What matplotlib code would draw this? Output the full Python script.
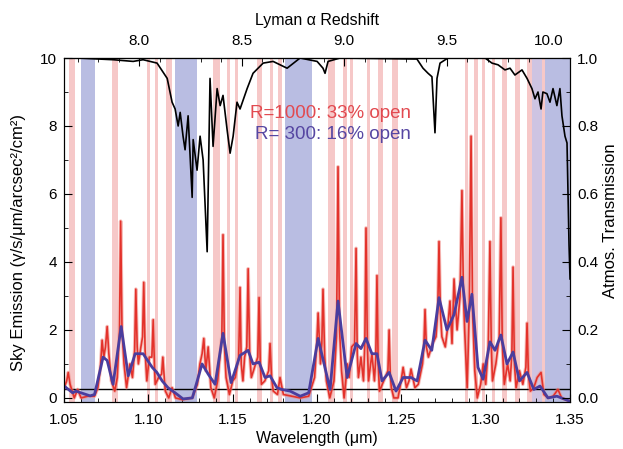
#!/usr/bin/env python3
"""Sky emission (R=1000 / R=300) and atmospheric transmission, 1.05-1.35 um."""

import numpy as np
import matplotlib
matplotlib.use("Agg")
import matplotlib.pyplot as plt
from matplotlib.ticker import MultipleLocator, FormatStrFormatter, FixedLocator

plt.rcParams["font.family"] = ["Liberation Sans", "DejaVu Sans"]

LYA = 0.1216  # um

# sky emission, R=1000: (wavelength um, photons/s/um/arcsec^2/cm^2)
r1000 = [
    (1.050, 0.3), (1.0515, 0.5), (1.0524, 0.75), (1.0535, 0.4), (1.056, 0.0),
    (1.058, 0.25), (1.060, 0.0), (1.064, 0.05), (1.068, 0.05), (1.070, 0.3),
    (1.0715, 0.9), (1.0725, 1.7), (1.0735, 1.2), (1.0745, 1.5), (1.0755, 2.1),
    (1.0765, 1.3), (1.078, 0.5), (1.080, 0.2), (1.0815, 0.6), (1.0828, 2.0),
    (1.0835, 5.2), (1.0843, 2.0), (1.0855, 1.0), (1.087, 0.3), (1.089, 1.0),
    (1.0905, 0.6), (1.0918, 1.4), (1.0925, 3.2), (1.0933, 1.5), (1.094, 1.0),
    (1.0955, 1.5), (1.0965, 1.8), (1.0972, 3.4), (1.098, 1.4), (1.099, 0.5),
    (1.1005, 1.2), (1.102, 1.2), (1.1028, 2.3), (1.1035, 1.0), (1.104, 0.4),
    (1.106, 0.6), (1.1078, 0.7), (1.1085, 1.2), (1.1095, 0.5), (1.110, 0.2),
    (1.112, 0.0), (1.114, 0.3), (1.116, 0.0), (1.120, -0.05), (1.126, 0.0),
    (1.129, 0.4), (1.1305, 1.0), (1.1318, 1.3), (1.1328, 1.75), (1.134, 0.8),
    (1.1354, 1.5), (1.137, 0.3), (1.139, 0.0), (1.141, 0.5), (1.1435, 1.8),
    (1.1442, 4.8), (1.145, 1.6), (1.146, 0.6), (1.148, 0.1), (1.150, 0.5),
    (1.1515, 0.6), (1.1535, 1.2), (1.1543, 3.25), (1.155, 1.0), (1.156, 0.5),
    (1.157, 1.2), (1.1583, 1.5), (1.1591, 3.8), (1.160, 1.3), (1.161, 0.6),
    (1.1635, 1.0), (1.1648, 1.2), (1.1656, 2.95), (1.1663, 1.0), (1.167, 0.4),
    (1.169, 0.5), (1.1713, 0.8), (1.1721, 1.6), (1.173, 0.6), (1.174, 0.2),
    (1.1765, 0.1), (1.178, 0.6), (1.180, 0.1), (1.185, 0.05), (1.190, 0.0),
    (1.195, 0.05), (1.1985, 0.6), (1.1998, 1.6), (1.2006, 2.5), (1.2015, 1.5),
    (1.202, 1.0), (1.2028, 1.6), (1.2035, 3.2), (1.2045, 1.2), (1.2055, 0.5),
    (1.2075, 0.0), (1.210, 0.5), (1.2115, 1.8), (1.2124, 6.8), (1.2133, 2.0),
    (1.2145, 0.8), (1.216, 0.0), (1.218, 1.0), (1.219, 0.6), (1.2205, 1.5),
    (1.2222, 1.6), (1.2231, 4.4), (1.2238, 1.3), (1.2245, 0.6), (1.226, 1.2),
    (1.2275, 0.5), (1.2283, 1.6), (1.2290, 5.0), (1.2298, 1.5), (1.2305, 0.5),
    (1.2325, 1.3), (1.234, 0.5), (1.2348, 1.2), (1.2355, 3.6), (1.2362, 1.0),
    (1.237, 0.2), (1.2395, 0.5), (1.242, 0.8), (1.2427, 2.0), (1.2434, 0.7),
    (1.244, 0.3), (1.2455, 0.0), (1.248, 0.0), (1.2498, 0.5), (1.2510, 0.9),
    (1.253, 0.3), (1.2545, 0.5), (1.2557, 0.85), (1.258, 0.3), (1.260, 0.4),
    (1.2625, 1.0), (1.2633, 1.5), (1.2640, 2.6), (1.2648, 1.5), (1.266, 1.2),
    (1.2685, 1.6), (1.2705, 1.8), (1.2715, 2.5), (1.2723, 4.6), (1.2731, 2.5),
    (1.274, 1.8), (1.276, 1.5), (1.2775, 2.1), (1.2788, 2.85), (1.280, 1.6),
    (1.2812, 3.5), (1.283, 2.0), (1.2848, 3.0), (1.2859, 6.1), (1.2868, 3.0),
    (1.2875, 2.0), (1.289, 0.3), (1.2902, 2.5), (1.2913, 7.7), (1.2922, 2.5),
    (1.2935, 0.8), (1.295, 0.0), (1.297, 0.4), (1.2985, 1.0), (1.300, 0.4),
    (1.3015, 1.5), (1.3025, 4.6), (1.3033, 1.5), (1.304, 0.5), (1.306, 1.0),
    (1.308, 1.8), (1.3090, 5.3), (1.3098, 1.6), (1.311, 0.4), (1.313, 1.0),
    (1.3145, 0.5), (1.3155, 1.3), (1.3162, 3.85), (1.317, 1.0), (1.318, 0.3),
    (1.320, 0.8), (1.322, 0.4), (1.3238, 0.9), (1.3245, 2.2), (1.3253, 0.7),
    (1.3265, 0.2), (1.3285, 0.3), (1.3305, 0.6), (1.3328, 0.75), (1.3345, 0.1),
    (1.337, 0.0), (1.340, 0.05), (1.3428, 0.25), (1.345, 0.0), (1.350, -0.1),
]

# sky emission, R=300
r300 = [
    (1.050, 0.35), (1.055, 0.15), (1.057, 0.2), (1.0654, 0.06), (1.068, 0.1),
    (1.0731, 1.2), (1.0755, 1.1), (1.079, 0.4), (1.0838, 2.1), (1.088, 0.65),
    (1.0921, 1.3), (1.0968, 1.3), (1.1022, 0.9), (1.105, 0.75), (1.1081, 0.5),
    (1.1116, 0.3), (1.1158, 0.15), (1.1205, -0.03), (1.126, 0.0), (1.1318, 1.0),
    (1.1354, 0.7), (1.1395, 0.4), (1.1442, 1.9), (1.149, 0.45), (1.1543, 1.25),
    (1.1591, 1.4), (1.162, 1.0), (1.1656, 1.05), (1.1691, 0.6), (1.1721, 0.65),
    (1.1762, 0.3), (1.179, 0.25), (1.184, 0.2), (1.190, 0.05), (1.195, 0.15),
    (1.2006, 1.75), (1.2077, 0.25), (1.2124, 2.85), (1.2178, 0.6), (1.2231, 1.6),
    (1.226, 1.45), (1.2290, 1.75), (1.2325, 1.3), (1.2355, 1.3), (1.2385, 0.5),
    (1.2427, 0.75), (1.2468, 0.2), (1.2510, 0.6), (1.2557, 0.6), (1.2593, 0.5),
    (1.2640, 1.7), (1.268, 1.4), (1.2723, 2.95), (1.2770, 2.0), (1.2812, 2.45),
    (1.2859, 3.55), (1.2889, 2.25), (1.2918, 3.05), (1.2954, 0.9), (1.2984, 0.55),
    (1.3025, 1.65), (1.3055, 1.4), (1.3090, 1.85), (1.3126, 1.0), (1.3162, 1.35),
    (1.320, 0.5), (1.3245, 0.75), (1.3285, 0.25), (1.3322, 0.35), (1.3369, 0.0),
    (1.3422, 0.05), (1.350, -0.1),
]

# atmospheric transmission (right axis)
transmission = [
    (1.0577, 1.0), (1.0790, 0.995), (1.0909, 0.99), (1.0968, 0.995), (1.1051, 0.985),
    (1.1111, 0.94), (1.1140, 0.87), (1.1158, 0.85), (1.1176, 0.80), (1.1188, 0.84),
    (1.1205, 0.77), (1.1217, 0.73), (1.1235, 0.83), (1.1259, 0.59), (1.1265, 0.76),
    (1.1288, 0.67), (1.1306, 0.77), (1.1324, 0.70), (1.1348, 0.43), (1.1365, 0.94),
    (1.1383, 0.74), (1.1407, 0.91), (1.1425, 0.86), (1.1442, 0.89), (1.1466, 0.79),
    (1.1484, 0.72), (1.1502, 0.77), (1.1525, 0.87), (1.1543, 0.85), (1.1585, 0.91),
    (1.1620, 0.955), (1.1680, 0.985), (1.1739, 0.99), (1.1822, 0.97), (1.1899, 1.0),
    (1.2000, 0.99), (1.2035, 0.97), (1.2047, 0.955), (1.2065, 0.99), (1.2136, 1.0),
    (1.2592, 0.997), (1.2628, 0.97), (1.2658, 0.955), (1.2681, 0.945), (1.2699, 0.78),
    (1.2711, 0.94), (1.2729, 0.985), (1.2776, 1.0), (1.2996, 1.0), (1.3037, 0.985),
    (1.3073, 0.98), (1.3114, 0.965), (1.3144, 0.97), (1.3173, 0.95), (1.3215, 0.965),
    (1.3245, 0.94), (1.3274, 0.91), (1.3292, 0.88), (1.3310, 0.90), (1.3328, 0.85),
    (1.3339, 0.90), (1.3363, 0.895), (1.3381, 0.87), (1.3399, 0.91), (1.3422, 0.86),
    (1.3440, 0.91), (1.3452, 0.83), (1.3470, 0.77), (1.3482, 0.75), (1.3488, 0.60),
    (1.3494, 0.45), (1.3500, 0.35),
]

# masked windows (start, end) in um
pink_bands = [(1.0530, 1.0565), (1.0785, 1.0820), (1.0992, 1.1010), (1.1039, 1.1057),
              (1.1105, 1.1140), (1.1383, 1.1425), (1.1466, 1.1484), (1.1514, 1.1531),
              (1.1644, 1.1674), (1.1721, 1.1739), (1.1769, 1.1792), (1.2065, 1.2106),
              (1.2154, 1.2178), (1.2195, 1.2213), (1.2296, 1.2314), (1.2361, 1.2391),
              (1.2444, 1.2480), (1.2877, 1.2895), (1.2930, 1.2954), (1.2978, 1.2996),
              (1.3037, 1.3055), (1.3096, 1.3126), (1.3173, 1.3203), (1.3245, 1.3274),
              (1.3333, 1.3351)]
blue_bands = [(1.0601, 1.0684), (1.1158, 1.1288), (1.1810, 1.1970), (1.3351, 1.3500)]
lavender_bands = [(1.3274, 1.3333)]

z_major = [8.0, 8.5, 9.0, 9.5, 10.0]


def lam2z(lam):
    return np.asarray(lam) / LYA - 1.0


def z2lam(z):
    return (np.asarray(z) + 1.0) * LYA


fig = plt.figure(figsize=(6.23, 4.49), dpi=100)
ax = fig.add_axes([0.103, 0.1047, 0.812, 0.7661])

for a, b in pink_bands:
    ax.axvspan(a, b, color="#f6c8c8", lw=0, zorder=0)
for a, b in blue_bands:
    ax.axvspan(a, b, color="#b9bde2", lw=0, zorder=0.5)
for a, b in lavender_bands:
    ax.axvspan(a, b, color="#cec4e2", lw=0, zorder=0.6)

wl1, f1 = zip(*r1000)
wl3, f3 = zip(*r300)
wlt, tr = zip(*transmission)

ax.axhline(0.25, color="black", lw=1.0, zorder=2)
ax.plot(wl1, f1, color="#f08a84", lw=2.6, alpha=0.55, solid_joinstyle="round", zorder=2.5)
ax.plot(wl1, f1, color="#e3322b", lw=1.2, solid_joinstyle="round", zorder=3)
ax.plot(wl3, f3, color="#4a3d9e", lw=2.0, solid_joinstyle="round", zorder=4)

ax.set_xlim(1.05, 1.35)
ax.set_ylim(-0.12, 10.0)
ax.xaxis.set_major_locator(MultipleLocator(0.05))
ax.xaxis.set_minor_locator(MultipleLocator(0.01))
ax.xaxis.set_major_formatter(FormatStrFormatter("%.2f"))
ax.yaxis.set_major_locator(MultipleLocator(2))
ax.yaxis.set_minor_locator(MultipleLocator(1))
ax.tick_params(which="both", direction="in", labelsize=11, top=False, right=False)
ax.tick_params(which="major", length=6)
ax.tick_params(which="minor", length=3)
ax.tick_params(axis="x", pad=8)
ax.tick_params(axis="y", pad=5)
ax.set_xlabel("Wavelength (\u03bcm)", fontsize=11.5, labelpad=3)
ax.set_ylabel("Sky Emission (\u03b3/s/\u03bcm/arcsec\u00b2/cm\u00b2)", fontsize=12)
ax.yaxis.set_label_coords(-0.075, 0.465)

ax.text(0.685, 0.839, "R=1000: 33% open", transform=ax.transAxes, color="#e24a50",
        fontsize=13.5, ha="right", va="center", zorder=5)
ax.text(0.685, 0.778, "R= 300: 16% open", transform=ax.transAxes, color="#5646a2",
        fontsize=13.5, ha="right", va="center", zorder=5)

ax2 = ax.twinx()
ax2.plot(wlt, tr, color="black", lw=1.2)
ax2.set_ylim(-0.012, 1.0)
ax2.yaxis.set_major_locator(MultipleLocator(0.2))
ax2.yaxis.set_minor_locator(MultipleLocator(0.1))
ax2.yaxis.set_major_formatter(FormatStrFormatter("%.1f"))
ax2.tick_params(which="both", direction="in", labelsize=11, pad=5)
ax2.tick_params(which="major", length=6)
ax2.tick_params(which="minor", length=3)
ax2.set_ylabel("Atmos. Transmission", fontsize=12)
ax2.yaxis.set_label_coords(1.066, 0.526)

top = ax.secondary_xaxis("top", functions=(lam2z, z2lam))
top.xaxis.set_major_locator(FixedLocator(z_major))
top.xaxis.set_minor_locator(FixedLocator(np.round(np.arange(7.7, 10.11, 0.1), 1)))
top.xaxis.set_major_formatter(FormatStrFormatter("%.1f"))
top.tick_params(which="both", direction="in", labelsize=11, pad=7)
top.tick_params(which="major", length=6)
top.tick_params(which="minor", length=3)
top.set_xlabel("Lyman \u03b1 Redshift", fontsize=11.5, labelpad=7)

fig.savefig("out.png", dpi=100)
